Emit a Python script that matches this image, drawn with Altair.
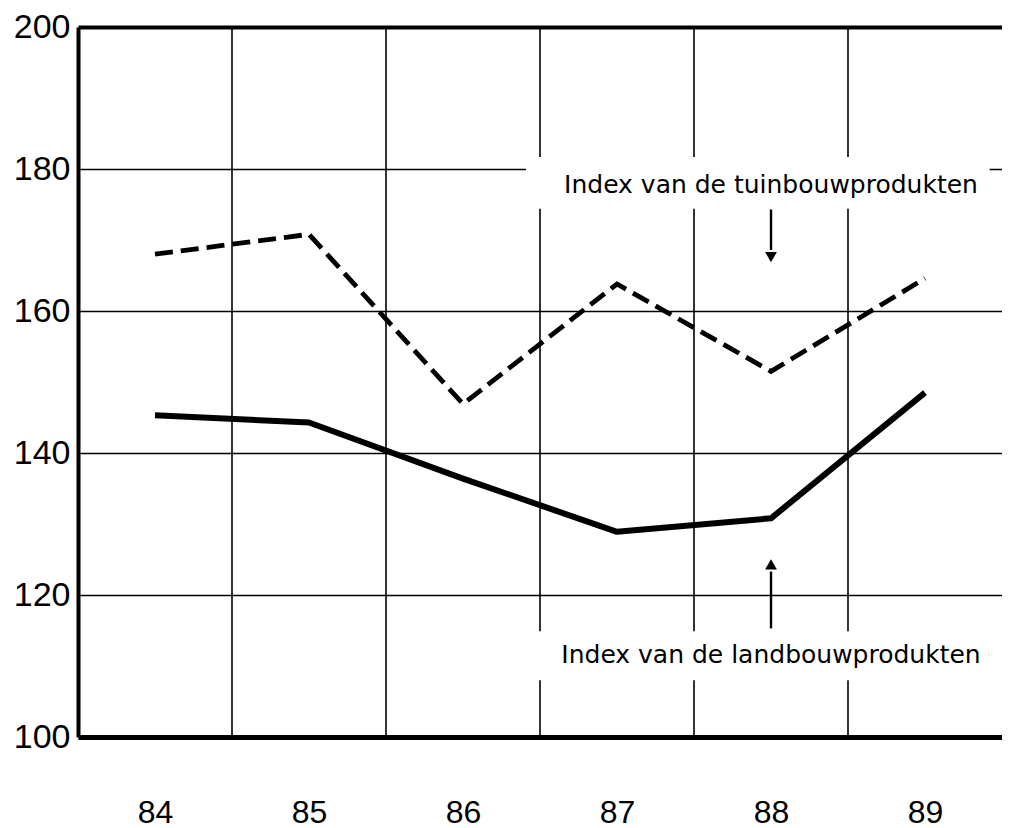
import altair as alt
import pandas as pd

# --- data ---
years = [84, 85, 86, 87, 88, 89]
tuinbouw = [168.0, 170.8, 146.9, 163.8, 151.5, 164.6]
landbouw = [145.3, 144.3, 136.4, 128.9, 130.8, 148.5]
y_ticks = [100, 120, 140, 160, 180, 200]
year_bounds = [84.5, 85.5, 86.5, 87.5, 88.5]

# annotations (in data units)
label_texts = ["Index van de tuinbouwprodukten", "Index van de landbouwprodukten"]
label_x = [88.0, 88.0]
label_y = [177.8, 111.5]
box_x0 = [86.41, 86.41]
box_x1 = [89.42, 89.5]
box_y0 = [174.4, 108.0]
box_y1 = [181.7, 114.9]
arrow_x = [88.0, 88.0]
arrow_from = [174.3, 115.3]
arrow_to = [168.6, 123.3]
head_y = [167.6, 124.3]
head_shape = ["triangle-down", "triangle-up"]

W, H = 924, 710
xscale = alt.Scale(domain=[83.5, 89.5], nice=False, zero=False)
yscale = alt.Scale(domain=[100, 200], nice=False, zero=False)

x_axis = alt.Axis(values=years, grid=False, ticks=False, labelFontSize=32,
                  labelFont="Liberation Sans", labelColor="black", labelPadding=60,
                  domainColor="black", domainWidth=5, title=None, format="d")
y_axis = alt.Axis(values=y_ticks, grid=True, gridColor="black",
                  gridWidth={"condition": {"test": "datum.value === 200", "value": 4}, "value": 1.6},
                  gridOpacity=1, ticks=False, labelFontSize=34, labelFont="Liberation Sans",
                  labelColor="black", labelPadding=8, domainColor="black", domainWidth=4,
                  title=None, format="d")

grid_df = pd.DataFrame({"b": year_bounds})
vgrid = alt.Chart(grid_df).mark_rule(color="black", strokeWidth=1.6).encode(
    x=alt.X("b:Q", scale=xscale, axis=x_axis),
)

ann_df = pd.DataFrame({
    "text": label_texts, "lx": label_x, "ly": label_y,
    "x0": box_x0, "x1": box_x1, "y0": box_y0, "y1": box_y1,
    "ax": arrow_x, "a0": arrow_from, "a1": arrow_to, "hy": head_y, "shape": head_shape,
})

boxes = alt.Chart(ann_df).mark_rect(color="white", opacity=1).encode(
    x=alt.X("x0:Q", scale=xscale, title=None), x2="x1",
    y=alt.Y("y0:Q", scale=yscale, axis=y_axis), y2="y1",
)

df_t = pd.DataFrame({"year": years, "value": tuinbouw})
df_l = pd.DataFrame({"year": years, "value": landbouw})

line_t = alt.Chart(df_t).mark_line(color="black", strokeWidth=4.8, strokeDash=[18, 8],
                                   strokeCap="butt", strokeJoin="miter").encode(
    x=alt.X("year:Q", scale=xscale, title=None),
    y=alt.Y("value:Q", scale=yscale, title=None),
)
line_l = alt.Chart(df_l).mark_line(color="black", strokeWidth=6, strokeJoin="round",
                                   strokeCap="butt").encode(
    x=alt.X("year:Q", scale=xscale, title=None),
    y=alt.Y("value:Q", scale=yscale, title=None),
)

texts = alt.Chart(ann_df).mark_text(font="DejaVu Sans", fontSize=25, color="black",
                                    align="center", baseline="middle").encode(
    x=alt.X("lx:Q", scale=xscale, title=None),
    y=alt.Y("ly:Q", scale=yscale, title=None),
    text="text:N",
)

arrows = alt.Chart(ann_df).mark_rule(color="black", strokeWidth=2.4).encode(
    x=alt.X("ax:Q", scale=xscale, title=None),
    y=alt.Y("a0:Q", scale=yscale, title=None), y2="a1",
)
heads = alt.Chart(ann_df).mark_point(filled=True, color="black", size=140, opacity=1).encode(
    x=alt.X("ax:Q", scale=xscale, title=None),
    y=alt.Y("hy:Q", scale=yscale, title=None),
    shape=alt.Shape("shape:N", scale=None, legend=None),
)

chart = alt.layer(vgrid, boxes, line_t, line_l, texts, arrows, heads).properties(
    width=W, height=H,
    autosize=alt.AutoSizeParams(type="none"),
    padding={"left": 70, "top": 19, "right": 0, "bottom": 95},
    background="white",
).configure_view(strokeWidth=0)

chart.save("out.html", embed_options={"renderer": "svg", "actions": False})
